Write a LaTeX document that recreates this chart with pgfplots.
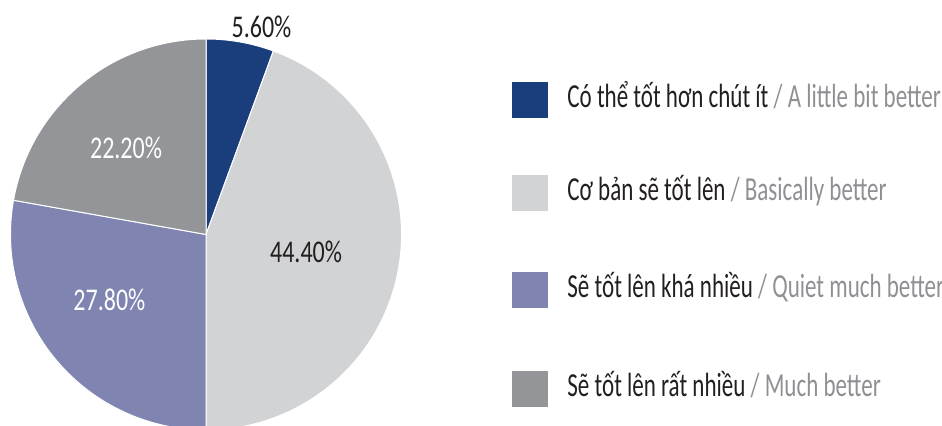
\documentclass[border=0pt]{standalone}
\usepackage{pgfplots}
\pgfplotsset{compat=1.18}
\usepackage{pgfplotstable}
\usepackage{fontspec}
\setmainfont{Carlito}[FakeStretch=0.76]
\newfontfamily\legfont{Carlito}[FakeStretch=0.685]
\definecolor{sA}{HTML}{1A3D7C}
\definecolor{sB}{HTML}{D1D3D4}
\definecolor{sC}{HTML}{7F84B1}
\definecolor{sD}{HTML}{939598}
\definecolor{txt}{HTML}{231F20}
\definecolor{sub}{HTML}{8E9093}
\pgfplotstableread{
share
5.6
44.4
27.8
22.2
}\piedata
\begin{document}
\begin{tikzpicture}
\clip (0,0) rectangle (471pt,213pt);
\pgfplotstablegetelem{0}{share}\of\piedata\let\vA\pgfplotsretval
\pgfplotstablegetelem{1}{share}\of\piedata\let\vB\pgfplotsretval
\pgfplotstablegetelem{2}{share}\of\piedata\let\vC\pgfplotsretval
\pgfplotstablegetelem{3}{share}\of\piedata\let\vD\pgfplotsretval
\pgfmathsetmacro\aA{90}
\pgfmathsetmacro\aB{\aA-3.6*\vA}
\pgfmathsetmacro\aC{\aB-3.6*\vB}
\pgfmathsetmacro\aD{\aC-3.6*\vC}
\pgfmathsetmacro\aE{\aD-3.6*\vD}
\begin{axis}[hide axis, scale only axis, width=195.5pt, height=195.5pt,
  xmin=-1, xmax=1, ymin=-1, ymax=1, clip=false,
  at={(103pt,95.75pt)}, anchor=center]
\filldraw[fill=sA, draw=white, line width=0.5pt] (axis cs:0,0) -- (axis cs:{cos(\aA)},{sin(\aA)}) arc[start angle=\aA, end angle=\aB, radius=97.75pt] -- cycle;
\filldraw[fill=sB, draw=white, line width=0.5pt] (axis cs:0,0) -- (axis cs:{cos(\aB)},{sin(\aB)}) arc[start angle=\aB, end angle=\aC, radius=97.75pt] -- cycle;
\filldraw[fill=sC, draw=white, line width=0.5pt] (axis cs:0,0) -- (axis cs:{cos(\aC)},{sin(\aC)}) arc[start angle=\aC, end angle=\aD, radius=97.75pt] -- cycle;
\filldraw[fill=sD, draw=white, line width=0.5pt] (axis cs:0,0) -- (axis cs:{cos(\aD)},{sin(\aD)}) arc[start angle=\aD, end angle=\aE, radius=97.75pt] -- cycle;
\node[text=txt, font=\fontsize{15.8}{17}\selectfont, inner sep=0] at (axis cs:0.284,1.061) {5.60\%};
\node[text=txt, font=\fontsize{15.8}{17}\selectfont, inner sep=0] at (axis cs:0.512,-0.088) {44.40\%};
\node[text=white, font=\fontsize{15.8}{17}\selectfont, inner sep=0] at (axis cs:-0.494,-0.335) {27.80\%};
\node[text=white, font=\fontsize{15.8}{17}\selectfont, inner sep=0] at (axis cs:-0.409,0.442) {22.20\%};
\end{axis}
\begin{scope}[x=0.5pt, y=-0.5pt, shift={(0,213pt)}]
\fill[sA] (512,82) rectangle (548,118);
\fill[sB] (512,175) rectangle (548,211);
\fill[sC] (512,272) rectangle (548,308);
\fill[sD] (512,371) rectangle (548,407);
\begin{scope}[every node/.style={anchor=base west, inner sep=0, font=\legfont\fontsize{16.8}{18}\selectfont}]
\node at (567,107.5) {\textcolor{txt}{Có thể tốt hơn chút ít} \textcolor{sub}{/ A little bit better}};
\node at (567,200.5) {\textcolor{txt}{Cơ bản sẽ tốt lên} \textcolor{sub}{/ Basically better}};
\node at (567,297.5) {\textcolor{txt}{Sẽ tốt lên khá nhiều} \textcolor{sub}{/ Quiet much better}};
\node at (567,396.5) {\textcolor{txt}{Sẽ tốt lên rất nhiều} \textcolor{sub}{/ Much better}};
\end{scope}
\end{scope}
\end{tikzpicture}
\end{document}
